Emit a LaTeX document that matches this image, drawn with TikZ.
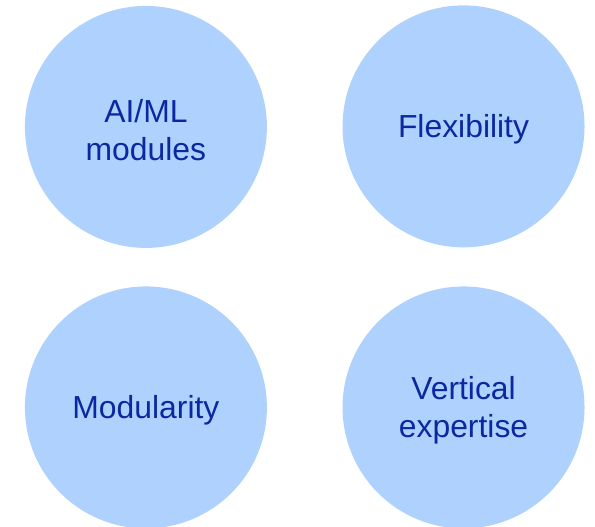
\documentclass[tikz,border=0pt]{standalone}
\usepackage{fontspec}
\setmainfont{Liberation Sans}

\definecolor{bubblefill}{RGB}{175,209,253}
\definecolor{bubbletext}{RGB}{12,40,160}

\begin{document}
\begin{tikzpicture}[
    bubble/.style={circle, fill=bubblefill, minimum size=8.54cm, inner sep=0pt},
    caption/.style={text=bubbletext, align=center, yshift=-3pt,
        font=\fontsize{32}{38}\selectfont}
]
    % Page frame
    \useasboundingbox (0, 0) rectangle (21, 18.6);

    % Define coordinates for the circle centres
    \coordinate (TopLeft) at (5.15, 14.12);
    \coordinate (TopRight) at (16.36, 14.14);
    \coordinate (BotLeft) at (5.15, 4.22);
    \coordinate (BotRight) at (16.36, 4.22);

    % Draw the four circles
    \node[bubble] (aiml) at (TopLeft) {};
    \node[bubble] (flex) at (TopRight) {};
    \node[bubble] (modul) at (BotLeft) {};
    \node[bubble] (vert) at (BotRight) {};

    % Texts, sitting a little below the centres
    \node[caption] (aimltext) at (aiml) {AI/ML\\modules};
    \node[caption] (flextext) at (flex) {Flexibility};
    \node[caption] (modultext) at (modul) {Modularity};
    \node[caption] (verttext) at (vert) {Vertical\\expertise};

\end{tikzpicture}
\end{document}
